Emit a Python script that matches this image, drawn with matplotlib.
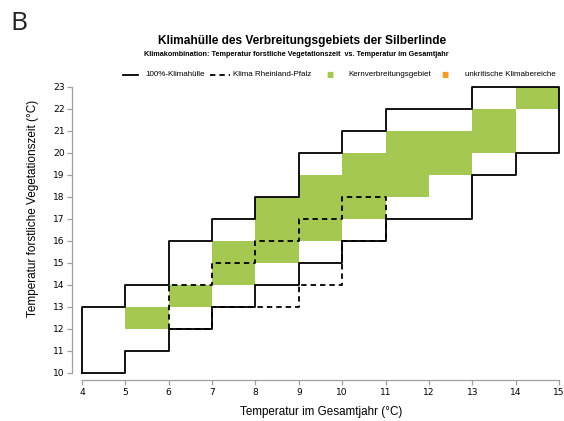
import matplotlib.pyplot as plt
import numpy as np

# Data
# Kernverbreitungsgebiet: lower-left corners of the green 1x1 cells
kern_x = np.array([5, 6, 7, 7, 8, 8, 8, 9, 9, 9, 10, 10, 10, 11, 11, 11, 12, 12, 13, 13, 14])
kern_y = np.array([12, 13, 14, 15, 15, 16, 17, 16, 17, 18, 17, 18, 19, 18, 19, 20, 19, 20, 20, 21, 22])

# unkritische Klimabereiche (none in this chart)
unkrit_x = np.array([])
unkrit_y = np.array([])

# 100%-Klimahuelle outline (vertices)
huelle_x = [4, 4, 5, 5, 6, 6, 7, 7, 8, 8, 9, 9, 10, 10, 11, 11, 13, 13, 15, 15, 14, 14, 13,
            13, 11, 11, 10, 10, 9, 9, 8, 8, 7, 7, 6, 6, 5, 5, 4]
huelle_y = [10, 13, 13, 14, 14, 16, 16, 17, 17, 18, 18, 20, 20, 21, 21, 22, 22, 23, 23, 20, 20, 19, 19,
            17, 17, 16, 16, 15, 15, 14, 14, 13, 13, 12, 12, 11, 11, 10, 10]

# Klima Rheinland-Pfalz outline (vertices)
rlp_x = [6, 6, 7, 7, 8, 8, 9, 9, 10, 10, 11, 11, 10, 10, 9, 9, 8, 7, 7, 6]
rlp_y = [12, 14, 14, 15, 15, 16, 16, 17, 17, 18, 18, 16, 16, 14, 14, 13, 13, 13, 12, 12]

x_ticks = np.arange(4, 16)
y_ticks = np.arange(10, 24)

green = '#a5c852'
orange = '#f39c2b'

fig = plt.figure(figsize=(5.64, 4.21), dpi=100)
ax = fig.add_axes([82 / 564, 48 / 421, 477 / 564, 286 / 421])

ax.bar(kern_x, 1, bottom=kern_y, width=1, align='edge', color=green, linewidth=0)
ax.bar(unkrit_x, 1, bottom=unkrit_y, width=1, align='edge', color=orange, linewidth=0)

ax.plot(huelle_x, huelle_y, color='black', lw=1.3, clip_on=False)
ax.plot(rlp_x, rlp_y, color='black', lw=1.3, ls=(0, (3, 2.2)), clip_on=False)

ax.set_xlim(4, 15)
ax.set_ylim(10, 23)
ax.set_xticks(x_ticks)
ax.set_yticks(y_ticks)
ax.tick_params(labelsize=6.6, length=3.5, color='#a0a0a0', width=0.9, pad=2)

for s in ['top', 'right']:
    ax.spines[s].set_visible(False)
ax.spines['left'].set_position(('outward', 7))
ax.spines['bottom'].set_position(('outward', 5))
for s in ['left', 'bottom']:
    ax.spines[s].set_color('#a0a0a0')
    ax.spines[s].set_linewidth(0.9)
ax.spines['left'].set_bounds(10, 23)
ax.spines['bottom'].set_bounds(4, 15)

fig.text(321 / 564, 1 - 412 / 421, 'Temperatur im Gesamtjahr (°C)', ha='center', va='center',
         fontsize=8.4, family='Liberation Sans')
fig.text(33 / 564, 1 - 208 / 421, 'Temperatur forstliche Vegetationszeit (°C)', ha='center',
         va='center', rotation=90, fontsize=8.5, family='Liberation Sans')

# Titles
fig.text(302 / 564, 1 - 41 / 421, 'Klimahülle des Verbreitungsgebiets der Silberlinde',
         ha='center', va='center', fontsize=8.6, fontweight='bold', family='Liberation Sans')
fig.text(296 / 564, 1 - 55 / 421,
         'Klimakombination: Temperatur forstliche Vegetationszeit  vs. Temperatur im Gesamtjahr',
         ha='center', va='center', fontsize=5.2, fontweight='bold', family='Liberation Sans')
fig.text(19 / 564, 1 - 23 / 421, 'B', ha='center', va='center', fontsize=19,
         family='Open Sans', color='#222222')

# Legend
ly = 1 - 75 / 421
fs = 5.8
fig.add_artist(plt.Line2D([123 / 564, 138 / 564], [ly, ly], color='black', lw=1.3))
fig.text(145 / 564, ly, '100%-Klimahülle', va='center', fontsize=fs, family='Liberation Sans')
fig.add_artist(plt.Line2D([210 / 564, 230 / 564], [ly, ly], color='black', lw=1.3,
                          ls=(0, (3, 2.2))))
fig.text(233 / 564, ly, 'Klima Rheinland-Pfalz', va='center', fontsize=fs, family='Liberation Sans')
fig.text(330 / 564, ly, '■', va='center', ha='center', fontsize=5.5, color=green)
fig.text(348 / 564, ly, 'Kernverbreitungsgebiet', va='center', fontsize=fs, family='Liberation Sans')
fig.text(445 / 564, ly, '■', va='center', ha='center', fontsize=5.5, color=orange)
fig.text(465 / 564, ly, 'unkritische Klimabereiche', va='center', fontsize=fs, family='Liberation Sans')

plt.savefig('out.png', dpi=100)
